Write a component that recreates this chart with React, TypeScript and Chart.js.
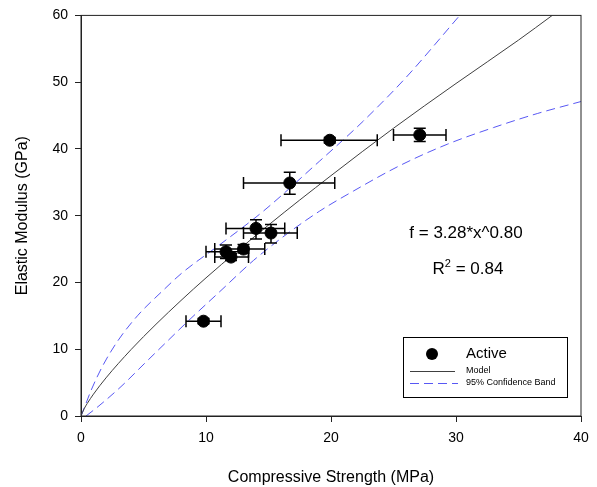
import React, { useEffect, useRef } from "react";
import { Chart, registerables } from "chart.js";

Chart.register(...registerables);

// Measured points (Compressive Strength MPa vs Elastic Modulus GPa)
const strength = [9.8, 11.6, 12.0, 13.0, 14.0, 15.2, 16.7, 19.9, 27.1];
const modulus = [14.2, 24.6, 23.8, 25.0, 28.1, 27.4, 34.9, 41.3, 42.1];
const strengthLow = [8.4, 10.0, 10.7, 10.7, 11.6, 13.0, 13.0, 16.0, 25.0];
const strengthHigh = [11.2, 13.4, 13.4, 14.7, 16.3, 17.3, 20.3, 23.7, 29.2];
const modulusLow = [13.8, 23.6, 23.3, 24.4, 26.5, 25.9, 33.2, 40.9, 41.1];
const modulusHigh = [14.6, 25.6, 24.3, 25.7, 29.4, 28.7, 36.5, 41.7, 43.1];

// Model curve f = 3.28*x^0.80
const modelX = [0, 0.25, 0.5, 1, 2, 4, 6, 8, 10, 15, 20, 25, 30, 35, 37.7];
const modelY = [0, 1.08, 1.88, 3.28, 5.71, 9.94, 13.74, 17.3, 20.69, 28.6, 36.0, 43.1, 49.8, 56.3, 60];

// 95% confidence band
const upperX = [0, 0.3, 0.82, 1.76, 2.96, 4.56, 6.56, 8, 11.2, 14.6, 19.1, 21, 22.6, 26, 30.3];
const upperY = [0, 1.4, 3.9, 7.6, 11.3, 15.1, 18.8, 21.3, 25.8, 30.7, 38.2, 41.4, 44.2, 50.7, 60];
const lowerX = [0.4, 1.36, 3.2, 5.1, 6.96, 8.5, 11.2, 13.8, 16.5, 19.1, 21.8, 25.5, 29.3, 33, 36.5, 40];
const lowerY = [0, 1.4, 4.4, 7.9, 11.3, 14.1, 18.8, 23.3, 27.3, 30.7, 33.7, 37.5, 40.7, 43.2, 45.3, 47.1];

const xTicks = [0, 10, 20, 30, 40];
const yTicks = [0, 10, 20, 30, 40, 50, 60];

const equationText = "f = 3.28*x^0.80";
const r2Value = "0.84";
const seriesName = "Active";
const modelName = "Model";
const bandName = "95% Confidence Band";

const FONT = "'Liberation Sans', Arial, Helvetica, sans-serif";
const BLUE = "#5858f4";

const pairs = (xs: number[], ys: number[]) => xs.map((x, i) => ({ x, y: ys[i] }));

const decorPlugin = {
  id: "decor",
  beforeDatasetDraw(chart: any, args: any) {
    if (args.index !== 0) return;
    const { ctx, scales } = chart;
    const xs = scales.x;
    const ys = scales.y;
    ctx.save();
    ctx.strokeStyle = "#000";
    ctx.lineWidth = 1.5;
    const cap = 6;
    for (let i = 0; i < strength.length; i++) {
      const px = xs.getPixelForValue(strength[i]);
      const py = ys.getPixelForValue(modulus[i]);
      const xl = xs.getPixelForValue(strengthLow[i]);
      const xh = xs.getPixelForValue(strengthHigh[i]);
      const yl = ys.getPixelForValue(modulusLow[i]);
      const yh = ys.getPixelForValue(modulusHigh[i]);
      ctx.beginPath();
      ctx.moveTo(xl, py);
      ctx.lineTo(xh, py);
      ctx.moveTo(xl, py - cap);
      ctx.lineTo(xl, py + cap);
      ctx.moveTo(xh, py - cap);
      ctx.lineTo(xh, py + cap);
      ctx.moveTo(px, yl);
      ctx.lineTo(px, yh);
      ctx.moveTo(px - cap, yl);
      ctx.lineTo(px + cap, yl);
      ctx.moveTo(px - cap, yh);
      ctx.lineTo(px + cap, yh);
      ctx.stroke();
    }
    ctx.restore();
  },
  afterDraw(chart: any) {
    const { ctx, chartArea, scales } = chart;
    const { left, top, right, bottom } = chartArea;
    ctx.save();
    // frame
    ctx.strokeStyle = "#222";
    ctx.lineWidth = 1;
    ctx.strokeRect(left, top, right - left, bottom - top);

    // equation text
    ctx.fillStyle = "#000";
    ctx.textBaseline = "middle";
    ctx.font = `17px ${FONT}`;
    const ex = scales.x.getPixelForValue(30.8);
    ctx.textAlign = "center";
    ctx.fillText(equationText, ex, scales.y.getPixelForValue(27.4));
    // R^2
    const ry = scales.y.getPixelForValue(21.9);
    ctx.font = `17px ${FONT}`;
    const wR = ctx.measureText("R").width;
    const rest = " = " + r2Value;
    const wRest = ctx.measureText(rest).width;
    ctx.font = `11px ${FONT}`;
    const wSup = ctx.measureText("2").width;
    const total = wR + wSup + wRest;
    let cx = ex - total / 2 + 2;
    ctx.textAlign = "left";
    ctx.font = `17px ${FONT}`;
    ctx.fillText("R", cx, ry);
    cx += wR;
    ctx.font = `11px ${FONT}`;
    ctx.fillText("2", cx, ry - 6);
    cx += wSup;
    ctx.font = `17px ${FONT}`;
    ctx.fillText(rest, cx, ry);

    // legend
    const lx = right - 178;
    const ly = bottom - 79;
    const lw = 164;
    const lh = 60;
    ctx.fillStyle = "#fff";
    ctx.fillRect(lx, ly, lw, lh);
    ctx.strokeStyle = "#000";
    ctx.lineWidth = 1;
    ctx.strokeRect(lx + 0.5, ly + 0.5, lw, lh);
    ctx.fillStyle = "#000";
    ctx.beginPath();
    ctx.arc(lx + 29, ly + 17, 6, 0, Math.PI * 2);
    ctx.fill();
    ctx.font = `15px ${FONT}`;
    ctx.textAlign = "left";
    ctx.fillText(seriesName, lx + 63, ly + 17);
    ctx.strokeStyle = "#404040";
    ctx.beginPath();
    ctx.moveTo(lx + 7, ly + 34.5);
    ctx.lineTo(lx + 52, ly + 34.5);
    ctx.stroke();
    ctx.font = `9px ${FONT}`;
    ctx.fillText(modelName, lx + 63, ly + 34);
    ctx.strokeStyle = BLUE;
    ctx.setLineDash([9, 5]);
    ctx.beginPath();
    ctx.moveTo(lx + 7, ly + 46.5);
    ctx.lineTo(lx + 55, ly + 46.5);
    ctx.stroke();
    ctx.setLineDash([]);
    ctx.fillText(bandName, lx + 63, ly + 46);
    ctx.restore();
  },
};

export default function App() {
  const ref = useRef<HTMLCanvasElement | null>(null);
  useEffect(() => {
    if (!ref.current) return;
    const tickFont = { family: FONT, size: 14 };
    const titleFont = { family: FONT, size: 16 };
    const chart = new Chart(ref.current, {
      type: "scatter",
      data: {
        datasets: [
          {
            label: seriesName,
            data: pairs(strength, modulus),
            pointRadius: 6,
            pointHoverRadius: 6,
            backgroundColor: "#000",
            borderColor: "#000",
            showLine: false,
          },
          {
            label: modelName,
            data: pairs(modelX, modelY),
            showLine: true,
            borderColor: "#404040",
            borderWidth: 1,
            pointRadius: 0,
            cubicInterpolationMode: "monotone",
          },
          {
            label: bandName,
            data: pairs(upperX, upperY),
            showLine: true,
            borderColor: BLUE,
            borderWidth: 1,
            borderDash: [9, 5],
            pointRadius: 0,
            cubicInterpolationMode: "monotone",
          },
          {
            label: bandName + " lower",
            data: pairs(lowerX, lowerY),
            showLine: true,
            borderColor: BLUE,
            borderWidth: 1,
            borderDash: [9, 5],
            pointRadius: 0,
            cubicInterpolationMode: "monotone",
          },
        ] as any,
      },
      options: {
        animation: false,
        responsive: false,
        maintainAspectRatio: false,
        events: [],
        layout: { padding: { left: 0, right: 16, top: 14, bottom: 0 } },
        plugins: { legend: { display: false }, tooltip: { enabled: false } },
        scales: {
          x: {
            type: "linear",
            min: 0,
            max: 40,
            afterBuildTicks: (s: any) => {
              s.ticks = xTicks.map((v) => ({ value: v }));
            },
            ticks: { color: "#000", font: tickFont, padding: 8, maxRotation: 0 },
            grid: { drawOnChartArea: false, drawTicks: true, tickLength: 6, color: "#222" },
            border: { display: true, color: "#222", width: 1 },
            title: {
              display: true,
              text: "Compressive Strength (MPa)",
              color: "#000",
              font: titleFont,
              padding: { top: 2, bottom: 0 },
            },
            afterFit: (s: any) => {
              s.height = 71;
            },
          },
          y: {
            type: "linear",
            min: 0,
            max: 60,
            afterBuildTicks: (s: any) => {
              s.ticks = yTicks.map((v) => ({ value: v }));
            },
            ticks: { color: "#000", font: tickFont, padding: 7 },
            grid: { drawOnChartArea: false, drawTicks: true, tickLength: 6, color: "#222" },
            border: { display: true, color: "#222", width: 1 },
            title: {
              display: true,
              text: "Elastic Modulus (GPa)",
              color: "#000",
              font: titleFont,
              padding: { top: 13, bottom: 0 },
            },
            afterFit: (s: any) => {
              s.width = 81;
            },
          },
        },
      } as any,
      plugins: [decorPlugin],
    });
    return () => chart.destroy();
  }, []);
  return (
    <div style={{ position: "fixed", left: 0, top: 0, width: 597, height: 487, background: "#fff" }}>
      <canvas ref={ref} width={597} height={487} style={{ width: 597, height: 487, display: "block" }} />
    </div>
  );
}
